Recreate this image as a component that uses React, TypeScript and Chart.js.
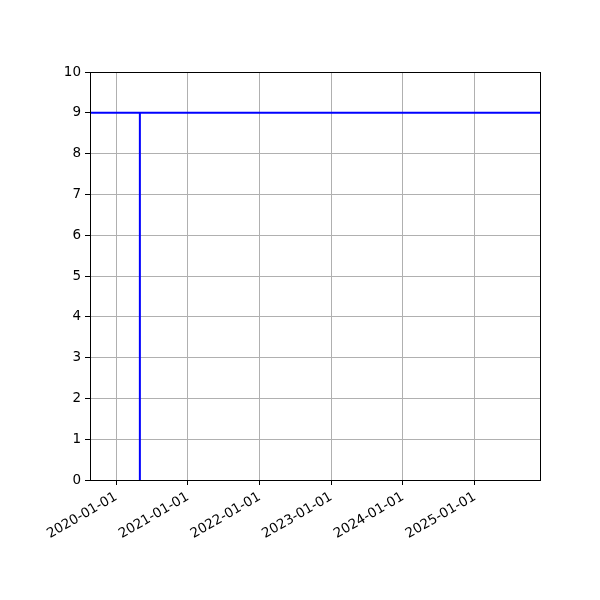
import React, { useEffect, useRef } from 'react';
import { Chart, registerables } from 'chart.js';

Chart.register(...registerables);

// axis limits and ticks (dates as YYYY-MM-DD)
const xLimits = ['2019-08-21', '2025-11-29'];
const xTickDates = ['2020-01-01', '2021-01-01', '2022-01-01', '2023-01-01', '2024-01-01', '2025-01-01'];
const yTicks = [0, 1, 2, 3, 4, 5, 6, 7, 8, 9, 10];

// the two blue lines
const hLineY = [9, 9];
const vLineDate = '2020-05-01';
const vLineY = [0, 9];

const toMs = (d: string) => Date.parse(d + 'T00:00:00Z');
const fmt = (v: number) => new Date(v).toISOString().slice(0, 10);

const frame = {
    id: 'frame',
    afterDraw(chart: Chart) {
        const { ctx, chartArea: a } = chart;
        ctx.save();
        ctx.strokeStyle = '#000';
        ctx.lineWidth = 1;
        ctx.strokeRect(Math.round(a.left) + 0.5, Math.round(a.top) + 0.5, Math.round(a.right - a.left), Math.round(a.bottom - a.top));
        ctx.restore();
    },
};

export default function App() {
    const canvasRef = useRef<HTMLCanvasElement>(null);
    const chartRef = useRef<Chart | null>(null);

    useEffect(() => {
        document.body.style.margin = '0';
        if (!canvasRef.current) return;
        if (chartRef.current) chartRef.current.destroy();

        const xMin = toMs(xLimits[0]);
        const xMax = toMs(xLimits[1]);
        const vx = toMs(vLineDate);
        const font = { family: 'DejaVu Sans', size: 13.5 };

        chartRef.current = new Chart(canvasRef.current, {
            type: 'line',
            data: {
                datasets: [
                    {
                        data: [{ x: xMin, y: hLineY[0] }, { x: xMax, y: hLineY[1] }],
                        borderColor: '#0000ff',
                        borderWidth: 2,
                        pointRadius: 0,
                    },
                    {
                        data: [{ x: vx, y: vLineY[0] }, { x: vx, y: vLineY[1] }],
                        borderColor: '#0000ff',
                        borderWidth: 2,
                        pointRadius: 0,
                    },
                ],
            },
            options: {
                animation: false,
                responsive: false,
                layout: { padding: { top: 72, right: 60, left: 0, bottom: 0 } },
                plugins: { legend: { display: false }, tooltip: { enabled: false } },
                scales: {
                    x: {
                        type: 'linear',
                        min: xMin,
                        max: xMax,
                        afterBuildTicks: (scale: any) => {
                            scale.ticks = xTickDates.map((d) => ({ value: toMs(d) }));
                        },
                        afterFit: (scale: any) => {
                            scale.height = 120;
                        },
                        grid: { color: '#b0b0b0', lineWidth: 1, tickColor: '#000', tickLength: 5 },
                        border: { display: true, color: '#000' },
                        ticks: {
                            color: '#000',
                            font,
                            minRotation: 30,
                            maxRotation: 30,
                            autoSkip: false,
                            padding: 4,
                            callback: (v: any) => fmt(Number(v)),
                        },
                    },
                    y: {
                        type: 'linear',
                        min: 0,
                        max: 10,
                        afterBuildTicks: (scale: any) => {
                            scale.ticks = yTicks.map((v) => ({ value: v }));
                        },
                        afterFit: (scale: any) => {
                            scale.width = 90;
                        },
                        grid: { color: '#b0b0b0', lineWidth: 1, tickColor: '#000', tickLength: 5 },
                        border: { display: true, color: '#000' },
                        ticks: { color: '#000', font, padding: 4 },
                    },
                },
            },
            plugins: [frame],
        });

        return () => {
            if (chartRef.current) chartRef.current.destroy();
            chartRef.current = null;
        };
    }, []);

    return (
        <div style={{ width: 600, height: 600, background: '#fff' }}>
            <canvas ref={canvasRef} width={600} height={600}></canvas>
        </div>
    );
}
